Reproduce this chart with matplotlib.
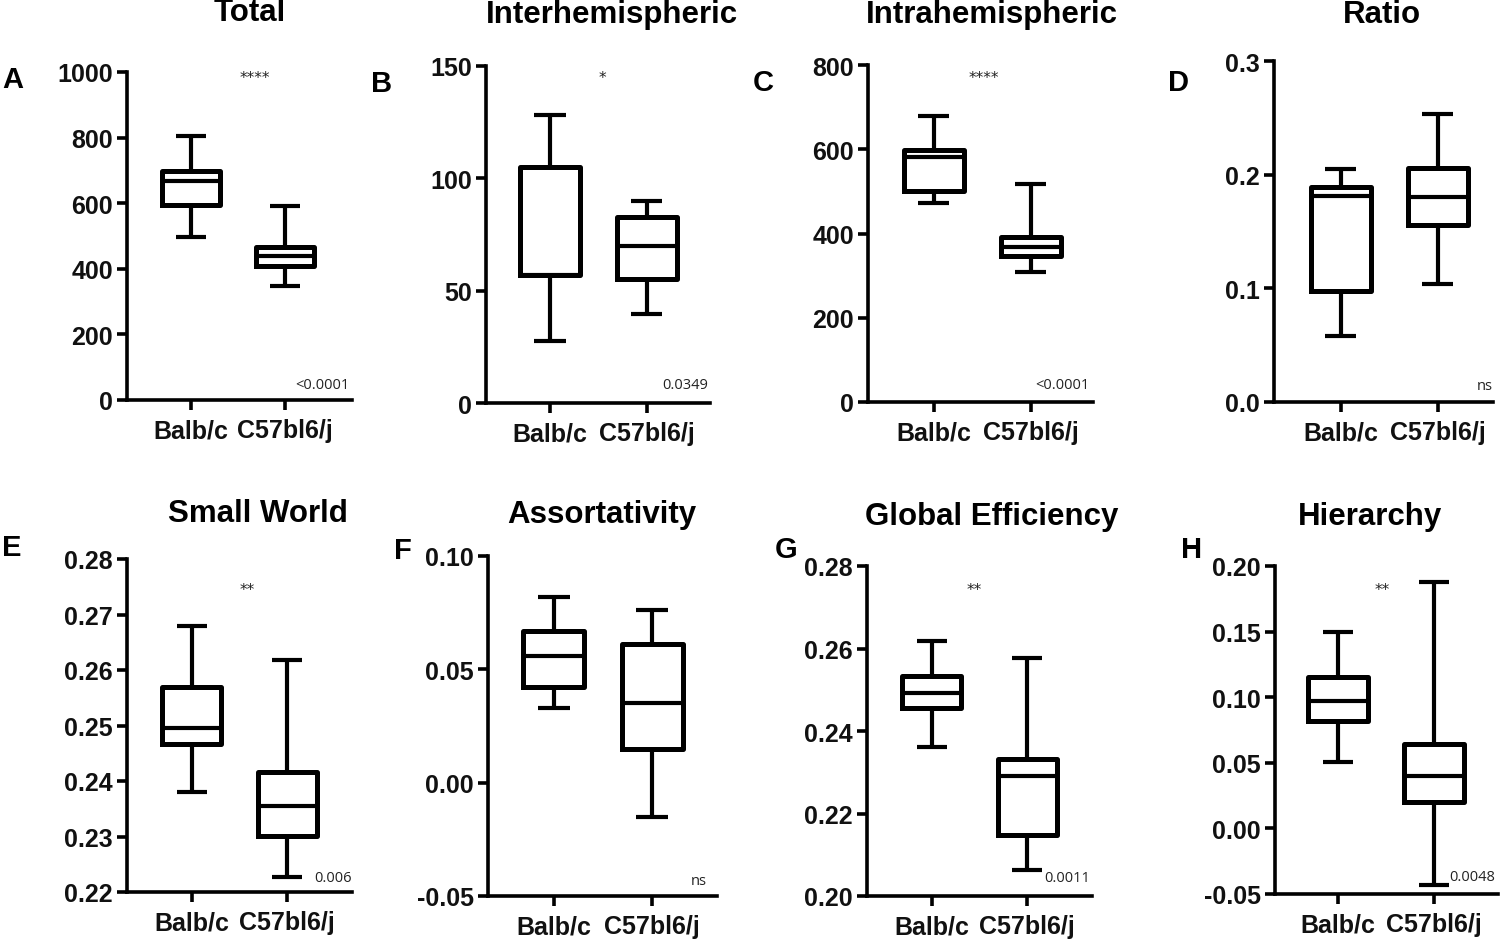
#!/usr/bin/env python3
"""Box plots de métricas de conectividade: Balb/c vs C57bl6/j"""

import matplotlib
matplotlib.use("Agg")
import matplotlib.pyplot as plt

# Dados
GROUPS = ["Balb/c", "C57bl6/j"]
TITLES = ["Total", "Interhemispheric", "Intrahemispheric", "Ratio",
          "Small World", "Assortativity", "Global Efficiency", "Hierarchy"]
LETTERS = ["A", "B", "C", "D", "E", "F", "G", "H"]

# [Balb/c, C57bl6/j] para cada painel
WHISK_LO = [[497, 347], [27.6, 39.6], [472, 308], [0.058, 0.104],
            [0.238, 0.2227], [0.033, -0.015], [0.2361, 0.2063], [0.0506, -0.043]]
Q1 = [[595, 409], [57, 55], [501, 347], [0.098, 0.156],
      [0.2467, 0.2301], [0.042, 0.015], [0.2456, 0.2148], [0.0819, 0.0201]]
MEDIAN = [[668, 440], [57, 70], [582, 368], [0.181, 0.180],
          [0.2496, 0.2355], [0.056, 0.035], [0.2492, 0.2291], [0.097, 0.040]]
Q3 = [[698, 466], [105, 83], [598, 391], [0.189, 0.206],
      [0.2569, 0.2416], [0.067, 0.061], [0.2533, 0.2332], [0.1154, 0.0643]]
WHISK_HI = [[805, 592], [128, 90], [679, 517], [0.205, 0.253],
            [0.268, 0.2618], [0.082, 0.076], [0.2618, 0.2577], [0.1497, 0.188]]

YTICKS = [[0, 200, 400, 600, 800, 1000],
          [0, 50, 100, 150],
          [0, 200, 400, 600, 800],
          [0.0, 0.1, 0.2, 0.3],
          [0.22, 0.23, 0.24, 0.25, 0.26, 0.27, 0.28],
          [-0.05, 0.00, 0.05, 0.10],
          [0.20, 0.22, 0.24, 0.26, 0.28],
          [-0.05, 0.00, 0.05, 0.10, 0.15, 0.20]]
YFMT = ["{:.0f}", "{:.0f}", "{:.0f}", "{:.1f}", "{:.2f}", "{:.2f}", "{:.2f}", "{:.2f}"]

STARS = ["****", "*", "****", "", "**", "", "**", "**"]
PVALS = ["<0.0001", "0.0349", "<0.0001", "ns", "0.006", "ns", "0.0011", "0.0048"]

# Layout (pixels na figura de 1500x945)
W, H = 1500, 945
AX_PX = [(127, 73, 352, 401), (486, 67, 710, 404), (868, 66, 1093, 403), (1274, 62, 1493, 403),
         (127, 560, 352, 893), (488, 557, 717, 897), (867, 567, 1092, 897), (1275, 567, 1498, 895)]
XLIMS = [(0.32, 2.71), (0.34, 2.65), (0.32, 2.64), (0.31, 2.57),
         (0.32, 2.68), (0.33, 2.66), (0.32, 2.68), (0.34, 2.67)]
TITLE_PX = [(250, 13), (612, 15), (992, 15), (1382, 15),
            (258, 514), (602, 515), (992, 517), (1370, 517)]
LETTER_PX = [(2, 80), (371, 84), (753, 83), (1168, 83),
             (2, 548), (394, 551), (775, 550), (1181, 550)]
STAR_PX = [(255, 78), (602, 79), (984, 79), None,
           (247, 591), None, (974, 591), (1382, 591)]
PVAL_PX = [(350, 386), (708, 386), (1090, 386), (1493, 387),
           (352, 879), (707, 882), (1090, 879), (1495, 878)]

BOLD = "Liberation Sans"
LW = 3.0


def px(x, y):
    return x / W, 1 - y / H


def main():
    plt.rcParams["font.family"] = BOLD
    plt.rcParams["axes.unicode_minus"] = False
    fig = plt.figure(figsize=(W / 100, H / 100), dpi=100)

    for i in range(8):
        l, t, r, b = AX_PX[i]
        ax = fig.add_axes([l / W, 1 - b / H, (r - l) / W, (b - t) / H])

        stats = []
        for g in range(2):
            stats.append({"label": GROUPS[g], "whislo": WHISK_LO[i][g], "q1": Q1[i][g],
                          "med": MEDIAN[i][g], "q3": Q3[i][g], "whishi": WHISK_HI[i][g],
                          "fliers": []})
        line = dict(color="black", linewidth=LW, solid_capstyle="butt")
        art = ax.bxp(stats, positions=[1, 2], widths=0.62, capwidths=0.32,
                     showfliers=False,
                     boxprops=dict(color="black", linewidth=LW + 0.6),
                     whiskerprops=line, capprops=line,
                     medianprops=dict(color="black", linewidth=LW))
        for arts in art.values():
            for a in arts:
                a.set_clip_on(False)

        ax.set_xlim(*XLIMS[i])
        ax.set_ylim(YTICKS[i][0], YTICKS[i][-1])
        ax.set_yticks(YTICKS[i])
        ax.set_yticklabels([YFMT[i].format(v) for v in YTICKS[i]])
        ax.set_xticks([1, 2])
        ax.set_xticklabels(GROUPS)

        for s in ["top", "right"]:
            ax.spines[s].set_visible(False)
        for s in ["left", "bottom"]:
            ax.spines[s].set_linewidth(2.6)
        ax.tick_params(axis="both", length=7, width=2.6, labelsize=18)
        ax.tick_params(axis="y", pad=3)
        ax.tick_params(axis="x", pad=6)
        for lab in ax.get_xticklabels() + ax.get_yticklabels():
            lab.set_fontweight("bold")
            lab.set_color("#111111")

        # titulo, letra, significancia e p-valor
        fig.text(*px(*TITLE_PX[i]), TITLES[i], ha="center", va="center",
                 fontsize=22.5, fontweight="bold")
        fig.text(*px(*LETTER_PX[i]), LETTERS[i], ha="left", va="center",
                 fontsize=21, fontweight="bold")
        if STARS[i]:
            fig.text(*px(*STAR_PX[i]), STARS[i], ha="center", va="center",
                     fontsize=11, family="DejaVu Sans", color="#222222")
        fig.text(*px(*PVAL_PX[i]), PVALS[i], ha="right", va="center",
                 fontsize=10.5, family="Open Sans", color="#222222")

    fig.savefig("out.png", dpi=100)
    plt.close(fig)


if __name__ == "__main__":
    main()
